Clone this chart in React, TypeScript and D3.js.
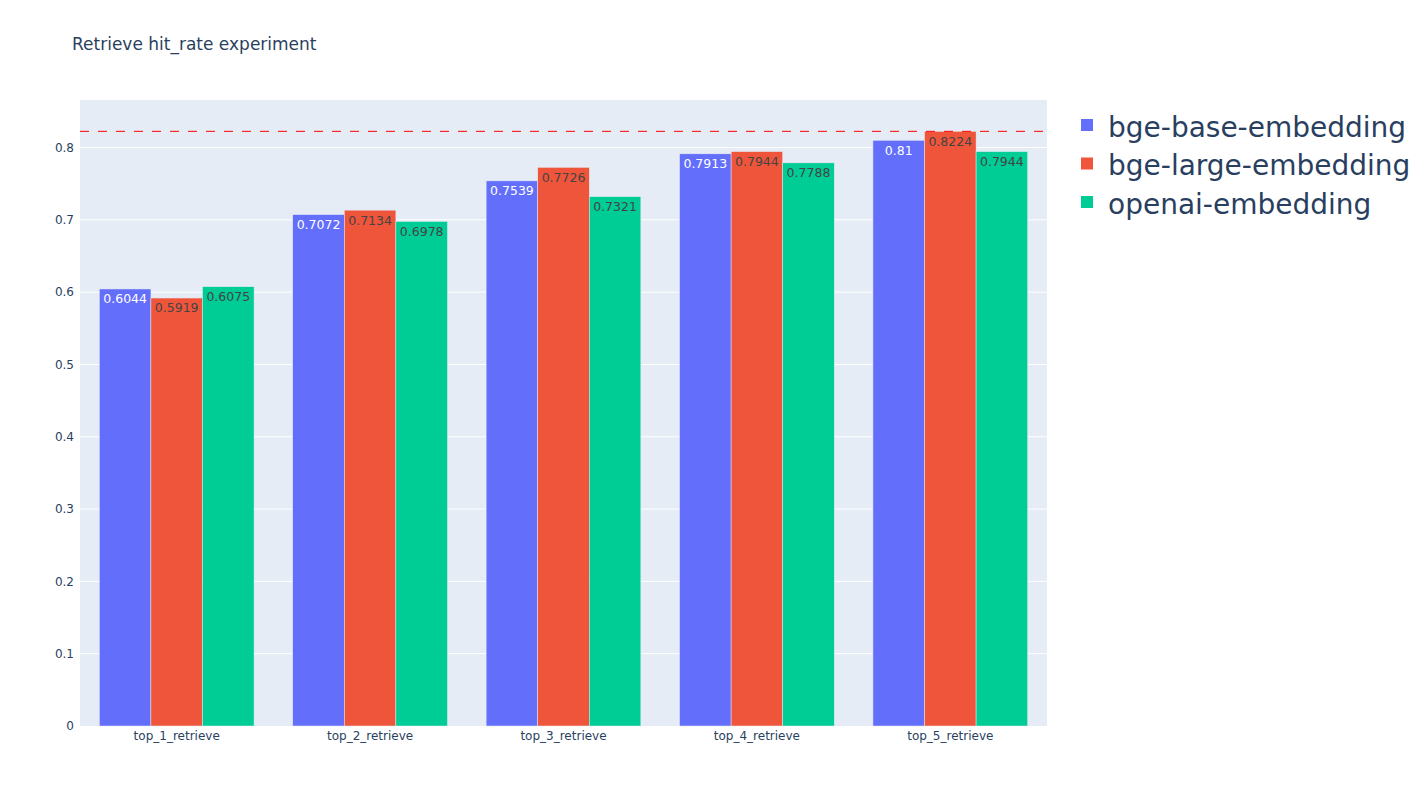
import React, { useRef, useEffect } from "react";
import * as d3 from "d3";

const categories = ["top_1_retrieve", "top_2_retrieve", "top_3_retrieve", "top_4_retrieve", "top_5_retrieve"];
const seriesNames = ["bge-base-embedding", "bge-large-embedding", "openai-embedding"];
const bgeBase = [0.6044, 0.7072, 0.7539, 0.7913, 0.81];
const bgeLarge = [0.5919, 0.7134, 0.7726, 0.7944, 0.8224];
const openai = [0.6075, 0.6978, 0.7321, 0.7788, 0.7944];
const yTicks = [0, 0.1, 0.2, 0.3, 0.4, 0.5, 0.6, 0.7, 0.8];
const colors = ["#636efa", "#EF553B", "#00cc96"];
const textColors = ["#ffffff", "#444444", "#444444"];

const App: React.FC = () => {
  const svgRef = useRef<SVGSVGElement | null>(null);

  useEffect(() => {
    const width = 1428;
    const height = 807;
    const margin = { top: 100, right: 381, bottom: 81, left: 80 };
    const font = "'DejaVu Sans', Verdana, sans-serif";
    const series = [bgeBase, bgeLarge, openai];
    const maxVal = d3.max(series.flat()) as number;

    const svg = d3.select(svgRef.current).attr("width", width).attr("height", height);
    svg.selectAll("*").remove();
    svg.append("rect").attr("width", width).attr("height", height).attr("fill", "#fff");

    const pw = width - margin.left - margin.right;
    const ph = height - margin.top - margin.bottom;

    const x = d3.scaleBand<string>().domain(categories).range([0, pw]).paddingInner(0.2).paddingOuter(0.1);
    const xs = d3.scaleBand<number>().domain([0, 1, 2]).range([0, x.bandwidth()]);
    const y = d3.scaleLinear().domain([0, maxVal * 1.0527]).range([ph, 0]);

    const g = svg.append("g").attr("transform", `translate(${margin.left},${margin.top})`);
    g.append("rect").attr("width", pw).attr("height", ph).attr("fill", "#E5ECF6");

    // grid
    g.selectAll(".grid")
      .data(yTicks.filter((t) => t > 0))
      .join("line")
      .attr("x1", 0)
      .attr("x2", pw)
      .attr("y1", (d) => y(d))
      .attr("y2", (d) => y(d))
      .attr("stroke", "#fff")
      .attr("stroke-width", 1);

    // y tick labels
    g.selectAll(".ytick")
      .data(yTicks)
      .join("text")
      .attr("x", -6)
      .attr("y", (d) => y(d))
      .attr("dy", "0.35em")
      .attr("text-anchor", "end")
      .style("font-family", font)
      .style("font-size", "12px")
      .style("fill", "#2a3f5f")
      .text((d) => (d === 0 ? "0" : d3.format(".1f")(d)));

    // x tick labels
    g.selectAll(".xtick")
      .data(categories)
      .join("text")
      .attr("x", (d) => (x(d) as number) + x.bandwidth() / 2)
      .attr("y", ph + 14)
      .attr("text-anchor", "middle")
      .style("font-family", font)
      .style("font-size", "12px")
      .style("fill", "#2a3f5f")
      .text((d) => d);

    // bars
    series.forEach((vals, si) => {
      const sg = g.append("g");
      sg.selectAll("rect")
        .data(vals)
        .join("rect")
        .attr("x", (d, i) => (x(categories[i]) as number) + (xs(si) as number))
        .attr("y", (d) => y(d))
        .attr("width", xs.bandwidth())
        .attr("height", (d) => ph - y(d))
        .attr("fill", colors[si])
        .attr("stroke", "#E5ECF6")
        .attr("stroke-width", 0.5);
      sg.selectAll("text")
        .data(vals)
        .join("text")
        .attr("x", (d, i) => (x(categories[i]) as number) + (xs(si) as number) + xs.bandwidth() / 2)
        .attr("y", (d) => y(d) + 10)
        .attr("dy", "0.35em")
        .attr("text-anchor", "middle")
        .style("font-family", font)
        .style("font-size", "12.5px")
        .style("fill", textColors[si])
        .text((d) => String(d));
    });

    // reference dashed line at max
    g.append("line")
      .attr("x1", 0)
      .attr("x2", pw)
      .attr("y1", y(maxVal))
      .attr("y2", y(maxVal))
      .attr("stroke", "red")
      .attr("stroke-width", 1)
      .attr("stroke-dasharray", "9,9");

    // title
    svg.append("text")
      .attr("x", 72)
      .attr("y", 50)
      .style("font-family", font)
      .style("font-size", "17px")
      .style("fill", "#2a3f5f")
      .text("Retrieve hit_rate experiment");

    // legend
    const lg = svg.append("g").attr("transform", "translate(1081,125)");
    seriesNames.forEach((name, i) => {
      const row = lg.append("g").attr("transform", `translate(0,${i * 38.5})`);
      row.append("rect").attr("x", 0).attr("y", -6).attr("width", 12).attr("height", 12).attr("fill", colors[i]);
      row.append("text")
        .attr("x", 27)
        .attr("y", 2)
        .attr("dy", "0.35em")
        .style("font-family", font)
        .style("font-size", "28px")
        .style("fill", "#2a3f5f")
        .text(name);
    });
  }, []);

  return (
    <div style={{ position: "absolute", left: 0, top: 0 }}>
      <svg ref={svgRef} style={{ display: "block" }}></svg>
    </div>
  );
};

export default App;
